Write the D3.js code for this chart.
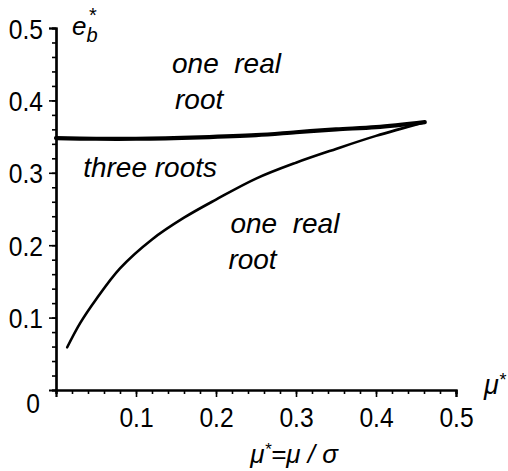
<!DOCTYPE html>
<html>
<head>
<meta charset="utf-8">
<script src="https://cdn.jsdelivr.net/npm/d3@7"></script>
<style>
  html, body { margin: 0; padding: 0; background: #fff; }
  svg { display: block; }
  text { font-family: "Liberation Sans", Arial, sans-serif; fill: #000; }
  .it { font-style: italic; }
</style>
</head>
<body>
<script>
// Boundary curves of the root-count regions in the (mu*, e_b*) plane
const upperMu = [0.0, 0.05, 0.10, 0.18, 0.25, 0.30, 0.35, 0.40, 0.461];
const upperE  = [0.348, 0.347, 0.347, 0.349, 0.352, 0.356, 0.360, 0.363, 0.370];

const lowerMu = [0.014, 0.03, 0.05, 0.08, 0.12, 0.16, 0.20, 0.25, 0.30, 0.35, 0.40, 0.461];
const lowerE  = [0.059, 0.092, 0.125, 0.168, 0.208, 0.238, 0.263, 0.292, 0.314, 0.333, 0.351, 0.370];

const xTickLabels = ["0.1", "0.2", "0.3", "0.4", "0.5"];
const yTickLabels = ["0.1", "0.2", "0.3", "0.4", "0.5"];
const xTickValues = [0.1, 0.2, 0.3, 0.4, 0.5];
const yTickValues = [0.1, 0.2, 0.3, 0.4, 0.5];

const regionLabels = [
  { lines: ["one  real", "root"], mu: 0.145, e: 0.438, dx2: 3 },
  { lines: ["three roots"], mu: 0.034, e: 0.294, dx2: 0 },
  { lines: ["one  real", "root"], mu: 0.218, e: 0.217, dx2: -2 }
];

const W = 508, H = 471;
const NARROW = 0.88;   // horizontal squeeze for the numeric labels
const svg = d3.select("body").append("svg").attr("width", W).attr("height", H);

const x = d3.scaleLinear().domain([0, 0.5]).range([56, 456]);
const y = d3.scaleLinear().domain([0, 0.5]).range([390, 28]);

// minor ticks every 0.02
const xAxisMinor = d3.axisBottom(x).tickValues(d3.range(0, 0.5001, 0.02)).tickSize(4).tickFormat("");
const yAxisMinor = d3.axisLeft(y).tickValues(d3.range(0, 0.5001, 0.02)).tickSize(4).tickFormat("");
const xAxisMajor = d3.axisBottom(x).tickValues(xTickValues).tickSize(7)
  .tickFormat((d, i) => xTickLabels[i]).tickPadding(10);
const yAxisMajor = d3.axisLeft(y).tickValues(yTickValues).tickSize(7)
  .tickFormat((d, i) => yTickLabels[i]).tickPadding(6);

function styleAxis(g) {
  g.select(".domain").attr("stroke", "#000").attr("stroke-width", 2.2);
  g.selectAll(".tick line").attr("stroke", "#000").attr("stroke-width", 1.6);
  g.selectAll(".tick text").attr("font-size", 28).attr("font-family", null);
}

svg.append("g").attr("transform", "translate(0,390)").call(xAxisMinor).call(styleAxis);
svg.append("g").attr("transform", "translate(56,0)").call(yAxisMinor).call(styleAxis);
svg.append("g").attr("transform", "translate(0,390)").call(xAxisMajor).call(styleAxis)
  .selectAll(".tick text").attr("dy", "0.72em").attr("transform", `scale(${NARROW},1)`);
svg.append("g").attr("transform", "translate(56,0)").call(yAxisMajor).call(styleAxis)
  .selectAll(".tick text").attr("dy", "0.36em")
  .attr("x", -13 / NARROW).attr("transform", `scale(${NARROW},1)`);

// origin label
svg.append("g").attr("transform", `translate(33,413) scale(${NARROW},1)`)
  .append("text").attr("text-anchor", "middle").attr("font-size", 28).text("0");

// curves
const line = d3.line().x(d => x(d[0])).y(d => y(d[1])).curve(d3.curveCatmullRom.alpha(0.5));
svg.append("path").datum(d3.zip(upperMu, upperE)).attr("d", line)
  .attr("fill", "none").attr("stroke", "#000").attr("stroke-width", 4.2).attr("stroke-linecap", "round");
svg.append("path").datum(d3.zip(lowerMu, lowerE)).attr("d", line)
  .attr("fill", "none").attr("stroke", "#000").attr("stroke-width", 2.6).attr("stroke-linecap", "round");

// region labels
regionLabels.forEach(r => {
  const t = svg.append("text").attr("class", "it").attr("font-size", 28)
    .attr("x", x(r.mu)).attr("y", y(r.e)).attr("xml:space", "preserve");
  r.lines.forEach((s, i) => {
    t.append("tspan").attr("x", x(r.mu) + (i ? r.dx2 : 0)).attr("dy", i ? 36 : 0).text(s);
  });
});

// axis titles
const yt = svg.append("text").attr("class", "it").attr("x", 72).attr("y", 35).attr("font-size", 26);
yt.append("tspan").text("e");
yt.append("tspan").attr("font-size", 20).attr("dy", 7).text("b");
svg.append("text").attr("x", 89).attr("y", 22).attr("font-size", 20).text("*");

const xr = svg.append("text").attr("class", "it").attr("x", 484).attr("y", 394).attr("font-size", 27);
xr.append("tspan").text("μ");
xr.append("tspan").attr("font-size", 18).attr("dy", -8).text("*");

const xt = svg.append("text").attr("class", "it").attr("x", 294).attr("y", 463)
  .attr("text-anchor", "middle").attr("font-size", 26);
xt.append("tspan").text("μ");
xt.append("tspan").attr("font-size", 17).attr("dy", -8).text("*");
xt.append("tspan").attr("dy", 8).text("=μ / σ");
</script>
</body>
</html>
